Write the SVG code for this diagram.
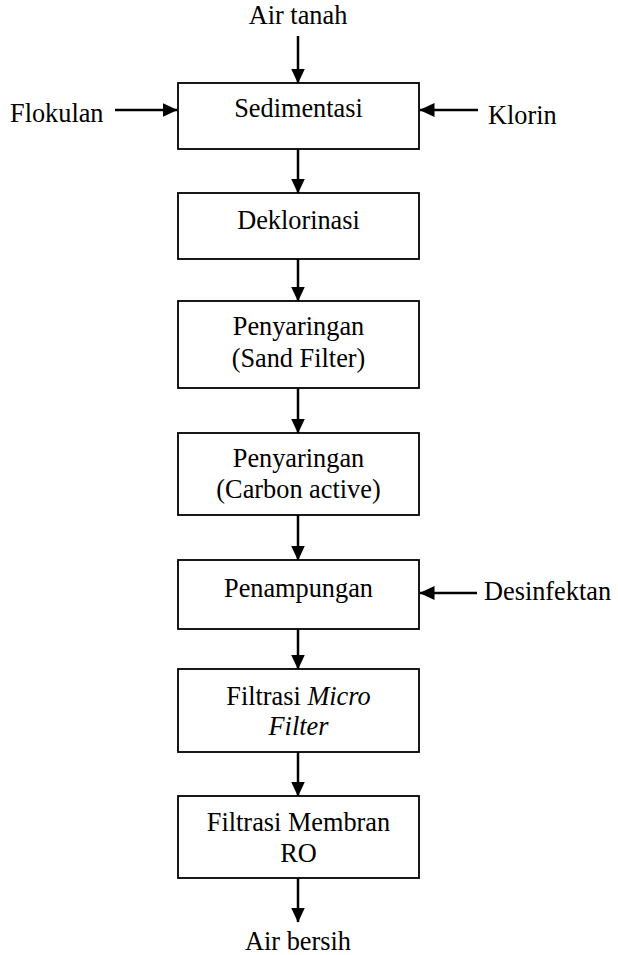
<svg xmlns="http://www.w3.org/2000/svg" width="618" height="955" viewBox="0 0 618 955">
<style>
text{font-family:"Liberation Serif","Times New Roman",serif;font-size:26.3px;fill:#000}
.c{text-anchor:middle}
.box{fill:#fff;stroke:#000;stroke-width:1.8}
.ln{stroke:#000;stroke-width:2.5;fill:none;marker-end:url(#ah)}
</style>
<defs>
<marker id="ah" markerUnits="userSpaceOnUse" markerWidth="15" markerHeight="14" refX="14.5" refY="7" orient="auto" viewBox="0 0 15 14">
<path d="M0,0 L15,7 L0,14 z" fill="#000"/>
</marker>
</defs>
<rect width="618" height="955" fill="#fff"/>
<g id="connectors">
<line class="ln" x1="298" y1="36" x2="298" y2="83"/>
<line class="ln" x1="115" y1="110" x2="177" y2="110"/>
<line class="ln" x1="478" y1="110" x2="420" y2="110"/>
<line class="ln" x1="298" y1="149" x2="298" y2="193"/>
<line class="ln" x1="298" y1="259" x2="298" y2="301"/>
<line class="ln" x1="298" y1="388" x2="298" y2="433"/>
<line class="ln" x1="298" y1="515" x2="298" y2="560"/>
<line class="ln" x1="477" y1="593" x2="420" y2="593"/>
<line class="ln" x1="298" y1="629" x2="298" y2="669"/>
<line class="ln" x1="298" y1="752" x2="298" y2="796"/>
<line class="ln" x1="298" y1="878" x2="298" y2="922"/>
</g>
<g id="air-tanah"><text class="c" x="298" y="24">Air tanah</text></g>
<g id="flokulan"><text x="10" y="122">Flokulan</text></g>
<g id="klorin"><text x="488" y="124">Klorin</text></g>
<g id="sedimentasi"><rect class="box" x="178" y="83" width="241" height="66"/><text class="c" x="298.5" y="117">Sedimentasi</text></g>
<g id="deklorinasi"><rect class="box" x="178" y="193" width="241" height="66"/><text class="c" x="298.5" y="229">Deklorinasi</text></g>
<g id="sand-filter"><rect class="box" x="178" y="301" width="241" height="87"/><text class="c" x="298.5" y="335">Penyaringan</text><text class="c" x="298.5" y="367">(Sand Filter)</text></g>
<g id="carbon-active"><rect class="box" x="178" y="433" width="241" height="82"/><text class="c" x="298.5" y="467">Penyaringan</text><text class="c" x="298.5" y="498">(Carbon active)</text></g>
<g id="penampungan"><rect class="box" x="178" y="560" width="241" height="69"/><text class="c" x="298.5" y="597">Penampungan</text></g>
<g id="desinfektan"><text x="484" y="600">Desinfektan</text></g>
<g id="micro-filter"><rect class="box" x="178" y="669" width="241" height="83"/><text class="c" x="298.5" y="705">Filtrasi <tspan font-style="italic">Micro</tspan></text><text class="c" x="298.5" y="735" font-style="italic">Filter</text></g>
<g id="membran-ro"><rect class="box" x="178" y="796" width="241" height="82"/><text class="c" x="298.5" y="831">Filtrasi Membran</text><text class="c" x="298.5" y="862">RO</text></g>
<g id="air-bersih"><text class="c" x="298" y="950">Air bersih</text></g>
</svg>
